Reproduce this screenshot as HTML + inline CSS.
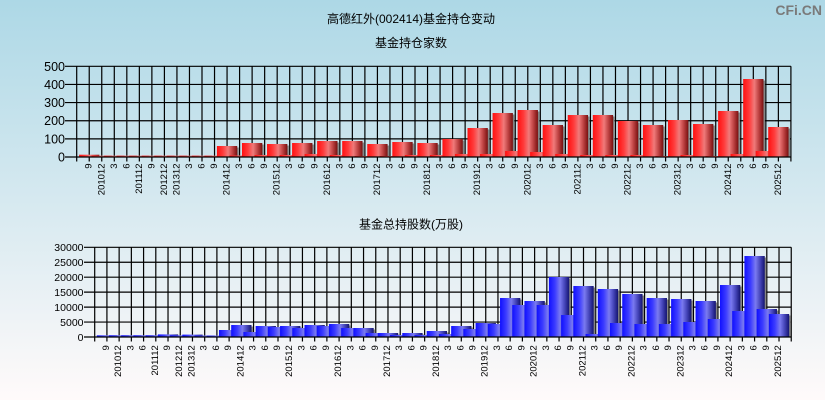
<!DOCTYPE html>
<html><head><meta charset="utf-8"><style>
html,body{margin:0;padding:0;width:825px;height:400px;overflow:hidden}
svg{display:block}
.t{font-family:"Liberation Sans","Noto Sans CJK SC",sans-serif;fill:#000}
.xl{font-family:"Liberation Sans",sans-serif;font-size:9.5px;text-anchor:end;fill:#000}
.y1{font-family:"Liberation Sans",sans-serif;font-size:12.5px;text-anchor:end;fill:#000}
.y2{font-family:"Liberation Sans",sans-serif;font-size:10.5px;text-anchor:end;fill:#000}
.r{fill:url(#gr)}.b{fill:url(#gb)}.s{fill:#858585}
</style></head><body>
<svg width="825" height="400" viewBox="0 0 825 400" xmlns="http://www.w3.org/2000/svg">
<defs>
<linearGradient id="bg" x1="0" y1="0" x2="0" y2="1"><stop offset="0" stop-color="#add8e6"/><stop offset="1" stop-color="#fffafa"/></linearGradient>
<linearGradient id="gr" x1="0" y1="0" x2="1" y2="0"><stop offset="0" stop-color="#ff1010"/><stop offset="0.3" stop-color="#ff3c3c"/><stop offset="0.55" stop-color="#f07a7a"/><stop offset="0.78" stop-color="#bb4040"/><stop offset="1" stop-color="#781010"/></linearGradient>
<linearGradient id="gb" x1="0" y1="0" x2="1" y2="0"><stop offset="0" stop-color="#1010ff"/><stop offset="0.3" stop-color="#3c3cff"/><stop offset="0.55" stop-color="#7a7af0"/><stop offset="0.78" stop-color="#4444b8"/><stop offset="1" stop-color="#141470"/></linearGradient>
</defs>
<rect x="0" y="0" width="825" height="400" fill="url(#bg)"/>

<text class="t" x="411" y="23" font-size="12" text-anchor="middle">高德红外(002414)基金持仓变动</text>
<text class="t" x="411" y="47" font-size="12" text-anchor="middle">基金持仓家数</text>
<text class="t" x="411" y="228.5" font-size="12" text-anchor="middle">基金总持股数(万股)</text>
<text x="822" y="15" font-family="Liberation Sans,sans-serif" font-weight="bold" font-size="14" text-anchor="end" fill="#7a7a7a">CFi.CN</text>

<!-- TOP CHART GRID -->
<g stroke="#000" stroke-width="1.2" fill="none">
<path d="M65 66.3H790.91M65 84.44H790.91M65 102.58H790.91M65 120.72H790.91M65 138.86H790.91"/>
<path d="M76.7 66.3V161.5M89.23 66.3V161.5M101.76 66.3V161.5M114.29 66.3V161.5M126.82 66.3V161.5M139.35 66.3V161.5M151.88 66.3V161.5M164.41 66.3V161.5M176.94 66.3V161.5M189.47 66.3V161.5M202 66.3V161.5M214.53 66.3V161.5M227.06 66.3V161.5M239.59 66.3V161.5M252.12 66.3V161.5M264.65 66.3V161.5M277.18 66.3V161.5M289.71 66.3V161.5M302.24 66.3V161.5M314.77 66.3V161.5M327.3 66.3V161.5M339.83 66.3V161.5M352.36 66.3V161.5M364.89 66.3V161.5M377.42 66.3V161.5M389.95 66.3V161.5M402.48 66.3V161.5M415.01 66.3V161.5M427.54 66.3V161.5M440.07 66.3V161.5M452.6 66.3V161.5M465.13 66.3V161.5M477.66 66.3V161.5M490.19 66.3V161.5M502.72 66.3V161.5M515.25 66.3V161.5M527.78 66.3V161.5M540.31 66.3V161.5M552.84 66.3V161.5M565.37 66.3V161.5M577.9 66.3V161.5M590.43 66.3V161.5M602.96 66.3V161.5M615.49 66.3V161.5M628.02 66.3V161.5M640.55 66.3V161.5M653.08 66.3V161.5M665.61 66.3V161.5M678.14 66.3V161.5M690.67 66.3V161.5M703.2 66.3V161.5M715.73 66.3V161.5M728.26 66.3V161.5M740.79 66.3V161.5M753.32 66.3V161.5M765.85 66.3V161.5M778.38 66.3V161.5M790.91 66.3V161.5"/>
</g>

<!-- TOP BARS -->
<g>
<rect class="r" x="79.08" y="154.7" width="20.3" height="2.3"/>
<rect class="r" x="91.61" y="155.7" width="20.3" height="1.3"/>
<rect class="r" x="104.14" y="155.7" width="20.3" height="1.3"/>
<rect class="r" x="116.67" y="155.7" width="20.3" height="1.3"/>
<rect class="r" x="129.2" y="155.7" width="20.3" height="1.3"/>
<rect class="r" x="141.73" y="155.7" width="20.3" height="1.3"/>
<rect class="r" x="154.26" y="155.7" width="20.3" height="1.3"/>
<rect class="r" x="166.79" y="155.7" width="20.3" height="1.3"/>
<rect class="r" x="179.32" y="155.7" width="20.3" height="1.3"/>
<rect class="r" x="191.85" y="155.7" width="20.3" height="1.3"/>
<rect class="r" x="204.38" y="155.7" width="20.3" height="1.3"/>
<rect class="s" x="218.41" y="147.5" width="20.3" height="9.5"/><rect class="r" x="216.91" y="146" width="20.3" height="11"/>
<rect class="r" x="229.44" y="155.5" width="20.3" height="1.5"/>
<rect class="s" x="243.47" y="144.5" width="20.3" height="12.5"/><rect class="r" x="241.97" y="143" width="20.3" height="14"/>
<rect class="r" x="254.5" y="155" width="20.3" height="2"/>
<rect class="s" x="268.53" y="145.5" width="20.3" height="11.5"/><rect class="r" x="267.03" y="144" width="20.3" height="13"/>
<rect class="r" x="279.56" y="155" width="20.3" height="2"/>
<rect class="s" x="293.59" y="144.5" width="20.3" height="12.5"/><rect class="r" x="292.09" y="143" width="20.3" height="14"/>
<rect class="r" x="304.62" y="154" width="20.3" height="3"/>
<rect class="s" x="318.65" y="142.5" width="20.3" height="14.5"/><rect class="r" x="317.15" y="141" width="20.3" height="16"/>
<rect class="r" x="329.68" y="155" width="20.3" height="2"/>
<rect class="s" x="343.71" y="142.5" width="20.3" height="14.5"/><rect class="r" x="342.21" y="141" width="20.3" height="16"/>
<rect class="r" x="354.74" y="156" width="20.3" height="1"/>
<rect class="s" x="368.77" y="145.5" width="20.3" height="11.5"/><rect class="r" x="367.27" y="144" width="20.3" height="13"/>
<rect class="r" x="379.8" y="156" width="20.3" height="1"/>
<rect class="s" x="393.83" y="143.5" width="20.3" height="13.5"/><rect class="r" x="392.33" y="142" width="20.3" height="15"/>
<rect class="r" x="404.86" y="155" width="20.3" height="2"/>
<rect class="s" x="418.89" y="144.5" width="20.3" height="12.5"/><rect class="r" x="417.39" y="143" width="20.3" height="14"/>
<rect class="r" x="429.92" y="155" width="20.3" height="2"/>
<rect class="s" x="443.95" y="140.5" width="20.3" height="16.5"/><rect class="r" x="442.45" y="139" width="20.3" height="18"/>
<rect class="r" x="454.98" y="154" width="20.3" height="3"/>
<rect class="s" x="469.01" y="129.5" width="20.3" height="27.5"/><rect class="r" x="467.51" y="128" width="20.3" height="29"/>
<rect class="r" x="480.04" y="154" width="20.3" height="3"/>
<rect class="s" x="494.07" y="114.5" width="20.3" height="42.5"/><rect class="r" x="492.57" y="113" width="20.3" height="44"/>
<rect class="s" x="506.6" y="152.5" width="20.3" height="4.5"/><rect class="r" x="505.1" y="151" width="20.3" height="6"/>
<rect class="s" x="519.13" y="111.5" width="20.3" height="45.5"/><rect class="r" x="517.63" y="110" width="20.3" height="47"/>
<rect class="s" x="531.66" y="153.5" width="20.3" height="3.5"/><rect class="r" x="530.16" y="152" width="20.3" height="5"/>
<rect class="s" x="544.19" y="126.5" width="20.3" height="30.5"/><rect class="r" x="542.69" y="125" width="20.3" height="32"/>
<rect class="r" x="555.22" y="154" width="20.3" height="3"/>
<rect class="s" x="569.25" y="116.5" width="20.3" height="40.5"/><rect class="r" x="567.75" y="115" width="20.3" height="42"/>
<rect class="r" x="580.28" y="155" width="20.3" height="2"/>
<rect class="s" x="594.31" y="116.5" width="20.3" height="40.5"/><rect class="r" x="592.81" y="115" width="20.3" height="42"/>
<rect class="r" x="605.34" y="155" width="20.3" height="2"/>
<rect class="s" x="619.37" y="122.5" width="20.3" height="34.5"/><rect class="r" x="617.87" y="121" width="20.3" height="36"/>
<rect class="r" x="630.4" y="155" width="20.3" height="2"/>
<rect class="s" x="644.43" y="126.5" width="20.3" height="30.5"/><rect class="r" x="642.93" y="125" width="20.3" height="32"/>
<rect class="r" x="655.46" y="156" width="20.3" height="1"/>
<rect class="s" x="669.49" y="121.5" width="20.3" height="35.5"/><rect class="r" x="667.99" y="120" width="20.3" height="37"/>
<rect class="r" x="680.52" y="155" width="20.3" height="2"/>
<rect class="s" x="694.55" y="125.5" width="20.3" height="31.5"/><rect class="r" x="693.05" y="124" width="20.3" height="33"/>
<rect class="r" x="705.58" y="156" width="20.3" height="1"/>
<rect class="s" x="719.61" y="112.5" width="20.3" height="44.5"/><rect class="r" x="718.11" y="111" width="20.3" height="46"/>
<rect class="r" x="730.64" y="154" width="20.3" height="3"/>
<rect class="s" x="744.67" y="80.5" width="20.3" height="76.5"/><rect class="r" x="743.17" y="79" width="20.3" height="78"/>
<rect class="s" x="757.2" y="152.5" width="20.3" height="4.5"/><rect class="r" x="755.7" y="151" width="20.3" height="6"/>
<rect class="s" x="769.73" y="128.5" width="20.3" height="28.5"/><rect class="r" x="768.23" y="127" width="20.3" height="30"/>
</g>
<path d="M65 157H790.91" stroke="#000" stroke-width="1.3"/>

<!-- TOP Y LABELS -->
<text class="y1" x="65" y="161.5">0</text>
<text class="y1" x="65" y="143.4">100</text>
<text class="y1" x="65" y="125.2">200</text>
<text class="y1" x="65" y="107.1">300</text>
<text class="y1" x="65" y="88.9">400</text>
<text class="y1" x="65" y="70.8">500</text>

<!-- TOP X LABELS -->
<g class="xl">
<text transform="translate(91.73,163.5) rotate(-90)">9</text>
<text transform="translate(104.26,163.5) rotate(-90)">201012</text>
<text transform="translate(116.79,163.5) rotate(-90)">3</text>
<text transform="translate(129.32,163.5) rotate(-90)">6</text>
<text transform="translate(141.85,163.5) rotate(-90)">201112</text>
<text transform="translate(154.38,163.5) rotate(-90)">9</text>
<text transform="translate(166.91,163.5) rotate(-90)">201212</text>
<text transform="translate(179.44,163.5) rotate(-90)">201312</text>
<text transform="translate(191.97,163.5) rotate(-90)">3</text>
<text transform="translate(204.5,163.5) rotate(-90)">6</text>
<text transform="translate(217.03,163.5) rotate(-90)">9</text>
<text transform="translate(229.56,163.5) rotate(-90)">201412</text>
<text transform="translate(242.09,163.5) rotate(-90)">3</text>
<text transform="translate(254.62,163.5) rotate(-90)">6</text>
<text transform="translate(267.15,163.5) rotate(-90)">9</text>
<text transform="translate(279.68,163.5) rotate(-90)">201512</text>
<text transform="translate(292.21,163.5) rotate(-90)">3</text>
<text transform="translate(304.74,163.5) rotate(-90)">6</text>
<text transform="translate(317.27,163.5) rotate(-90)">9</text>
<text transform="translate(329.8,163.5) rotate(-90)">201612</text>
<text transform="translate(342.33,163.5) rotate(-90)">3</text>
<text transform="translate(354.86,163.5) rotate(-90)">6</text>
<text transform="translate(367.39,163.5) rotate(-90)">9</text>
<text transform="translate(379.92,163.5) rotate(-90)">201712</text>
<text transform="translate(392.45,163.5) rotate(-90)">3</text>
<text transform="translate(404.98,163.5) rotate(-90)">6</text>
<text transform="translate(417.51,163.5) rotate(-90)">9</text>
<text transform="translate(430.04,163.5) rotate(-90)">201812</text>
<text transform="translate(442.57,163.5) rotate(-90)">3</text>
<text transform="translate(455.1,163.5) rotate(-90)">6</text>
<text transform="translate(467.63,163.5) rotate(-90)">9</text>
<text transform="translate(480.16,163.5) rotate(-90)">201912</text>
<text transform="translate(492.69,163.5) rotate(-90)">3</text>
<text transform="translate(505.22,163.5) rotate(-90)">6</text>
<text transform="translate(517.75,163.5) rotate(-90)">9</text>
<text transform="translate(530.28,163.5) rotate(-90)">202012</text>
<text transform="translate(542.81,163.5) rotate(-90)">3</text>
<text transform="translate(555.34,163.5) rotate(-90)">6</text>
<text transform="translate(567.87,163.5) rotate(-90)">9</text>
<text transform="translate(580.4,163.5) rotate(-90)">202112</text>
<text transform="translate(592.93,163.5) rotate(-90)">3</text>
<text transform="translate(605.46,163.5) rotate(-90)">6</text>
<text transform="translate(617.99,163.5) rotate(-90)">9</text>
<text transform="translate(630.52,163.5) rotate(-90)">202212</text>
<text transform="translate(643.05,163.5) rotate(-90)">3</text>
<text transform="translate(655.58,163.5) rotate(-90)">6</text>
<text transform="translate(668.11,163.5) rotate(-90)">9</text>
<text transform="translate(680.64,163.5) rotate(-90)">202312</text>
<text transform="translate(693.17,163.5) rotate(-90)">3</text>
<text transform="translate(705.7,163.5) rotate(-90)">6</text>
<text transform="translate(718.23,163.5) rotate(-90)">9</text>
<text transform="translate(730.76,163.5) rotate(-90)">202412</text>
<text transform="translate(743.29,163.5) rotate(-90)">3</text>
<text transform="translate(755.82,163.5) rotate(-90)">6</text>
<text transform="translate(768.35,163.5) rotate(-90)">9</text>
<text transform="translate(780.88,163.5) rotate(-90)">202512</text>
</g>

<!-- BOTTOM CHART GRID -->
<g stroke="#000" stroke-width="1.2" fill="none">
<path d="M84 247.3H791.24M84 262.25H791.24M84 277.2H791.24M84 292.15H791.24M84 307.1H791.24M84 322.05H791.24"/>
<path d="M94.7 247.3V341.5M106.92 247.3V341.5M119.14 247.3V341.5M131.36 247.3V341.5M143.58 247.3V341.5M155.8 247.3V341.5M168.02 247.3V341.5M180.24 247.3V341.5M192.46 247.3V341.5M204.68 247.3V341.5M216.9 247.3V341.5M229.12 247.3V341.5M241.34 247.3V341.5M253.56 247.3V341.5M265.78 247.3V341.5M278 247.3V341.5M290.22 247.3V341.5M302.44 247.3V341.5M314.66 247.3V341.5M326.88 247.3V341.5M339.1 247.3V341.5M351.32 247.3V341.5M363.54 247.3V341.5M375.76 247.3V341.5M387.98 247.3V341.5M400.2 247.3V341.5M412.42 247.3V341.5M424.64 247.3V341.5M436.86 247.3V341.5M449.08 247.3V341.5M461.3 247.3V341.5M473.52 247.3V341.5M485.74 247.3V341.5M497.96 247.3V341.5M510.18 247.3V341.5M522.4 247.3V341.5M534.62 247.3V341.5M546.84 247.3V341.5M559.06 247.3V341.5M571.28 247.3V341.5M583.5 247.3V341.5M595.72 247.3V341.5M607.94 247.3V341.5M620.16 247.3V341.5M632.38 247.3V341.5M644.6 247.3V341.5M656.82 247.3V341.5M669.04 247.3V341.5M681.26 247.3V341.5M693.48 247.3V341.5M705.7 247.3V341.5M717.92 247.3V341.5M730.14 247.3V341.5M742.36 247.3V341.5M754.58 247.3V341.5M766.8 247.3V341.5M779.02 247.3V341.5M791.24 247.3V341.5"/>
</g>

<!-- BOTTOM BARS -->
<g>
<rect class="b" x="96.77" y="335.3" width="20.3" height="1.7"/>
<rect class="b" x="108.99" y="335.3" width="20.3" height="1.7"/>
<rect class="b" x="121.21" y="335.3" width="20.3" height="1.7"/>
<rect class="b" x="133.43" y="335.3" width="20.3" height="1.7"/>
<rect class="b" x="145.65" y="335.3" width="20.3" height="1.7"/>
<rect class="b" x="157.87" y="334.4" width="20.3" height="2.6"/>
<rect class="b" x="170.09" y="335.3" width="20.3" height="1.7"/>
<rect class="b" x="182.31" y="334.6" width="20.3" height="2.4"/>
<rect class="b" x="194.53" y="335.5" width="20.3" height="1.5"/>
<rect class="b" x="206.75" y="335.6" width="20.3" height="1.4"/>
<rect class="s" x="220.47" y="331.5" width="20.3" height="5.5"/><rect class="b" x="218.97" y="330" width="20.3" height="7"/>
<rect class="s" x="232.69" y="326.5" width="20.3" height="10.5"/><rect class="b" x="231.19" y="325" width="20.3" height="12"/>
<rect class="s" x="244.91" y="333.5" width="20.3" height="3.5"/><rect class="b" x="243.41" y="332" width="20.3" height="5"/>
<rect class="s" x="257.13" y="327.5" width="20.3" height="9.5"/><rect class="b" x="255.63" y="326" width="20.3" height="11"/>
<rect class="s" x="269.35" y="328.5" width="20.3" height="8.5"/><rect class="b" x="267.85" y="327" width="20.3" height="10"/>
<rect class="s" x="281.57" y="327.5" width="20.3" height="9.5"/><rect class="b" x="280.07" y="326" width="20.3" height="11"/>
<rect class="s" x="293.79" y="329.5" width="20.3" height="7.5"/><rect class="b" x="292.29" y="328" width="20.3" height="9"/>
<rect class="s" x="306.01" y="326.5" width="20.3" height="10.5"/><rect class="b" x="304.51" y="325" width="20.3" height="12"/>
<rect class="s" x="318.23" y="327.5" width="20.3" height="9.5"/><rect class="b" x="316.73" y="326" width="20.3" height="11"/>
<rect class="s" x="330.45" y="325.5" width="20.3" height="11.5"/><rect class="b" x="328.95" y="324" width="20.3" height="13"/>
<rect class="s" x="342.67" y="329.5" width="20.3" height="7.5"/><rect class="b" x="341.17" y="328" width="20.3" height="9"/>
<rect class="s" x="354.89" y="329.5" width="20.3" height="7.5"/><rect class="b" x="353.39" y="328" width="20.3" height="9"/>
<rect class="s" x="367.11" y="334.5" width="20.3" height="2.5"/><rect class="b" x="365.61" y="333" width="20.3" height="4"/>
<rect class="s" x="379.33" y="334.5" width="20.3" height="2.5"/><rect class="b" x="377.83" y="333" width="20.3" height="4"/>
<rect class="b" x="390.05" y="335" width="20.3" height="2"/>
<rect class="s" x="403.77" y="334.5" width="20.3" height="2.5"/><rect class="b" x="402.27" y="333" width="20.3" height="4"/>
<rect class="b" x="414.49" y="335" width="20.3" height="2"/>
<rect class="s" x="428.21" y="332.5" width="20.3" height="4.5"/><rect class="b" x="426.71" y="331" width="20.3" height="6"/>
<rect class="b" x="438.93" y="334" width="20.3" height="3"/>
<rect class="s" x="452.65" y="327.5" width="20.3" height="9.5"/><rect class="b" x="451.15" y="326" width="20.3" height="11"/>
<rect class="s" x="464.87" y="330.5" width="20.3" height="6.5"/><rect class="b" x="463.37" y="329" width="20.3" height="8"/>
<rect class="s" x="477.09" y="324.5" width="20.3" height="12.5"/><rect class="b" x="475.59" y="323" width="20.3" height="14"/>
<rect class="s" x="489.31" y="325.5" width="20.3" height="11.5"/><rect class="b" x="487.81" y="324" width="20.3" height="13"/>
<rect class="s" x="501.53" y="299.5" width="20.3" height="37.5"/><rect class="b" x="500.03" y="298" width="20.3" height="39"/>
<rect class="s" x="513.75" y="306.5" width="20.3" height="30.5"/><rect class="b" x="512.25" y="305" width="20.3" height="32"/>
<rect class="s" x="525.97" y="302.5" width="20.3" height="34.5"/><rect class="b" x="524.47" y="301" width="20.3" height="36"/>
<rect class="s" x="538.19" y="306.5" width="20.3" height="30.5"/><rect class="b" x="536.69" y="305" width="20.3" height="32"/>
<rect class="s" x="550.41" y="278.5" width="20.3" height="58.5"/><rect class="b" x="548.91" y="277" width="20.3" height="60"/>
<rect class="s" x="562.63" y="316.5" width="20.3" height="20.5"/><rect class="b" x="561.13" y="315" width="20.3" height="22"/>
<rect class="s" x="574.85" y="287.5" width="20.3" height="49.5"/><rect class="b" x="573.35" y="286" width="20.3" height="51"/>
<rect class="b" x="585.57" y="334" width="20.3" height="3"/>
<rect class="s" x="599.29" y="290.5" width="20.3" height="46.5"/><rect class="b" x="597.79" y="289" width="20.3" height="48"/>
<rect class="s" x="611.51" y="324.5" width="20.3" height="12.5"/><rect class="b" x="610.01" y="323" width="20.3" height="14"/>
<rect class="s" x="623.73" y="295.5" width="20.3" height="41.5"/><rect class="b" x="622.23" y="294" width="20.3" height="43"/>
<rect class="s" x="635.95" y="325.5" width="20.3" height="11.5"/><rect class="b" x="634.45" y="324" width="20.3" height="13"/>
<rect class="s" x="648.17" y="299.5" width="20.3" height="37.5"/><rect class="b" x="646.67" y="298" width="20.3" height="39"/>
<rect class="s" x="660.39" y="325.5" width="20.3" height="11.5"/><rect class="b" x="658.89" y="324" width="20.3" height="13"/>
<rect class="s" x="672.61" y="300.5" width="20.3" height="36.5"/><rect class="b" x="671.11" y="299" width="20.3" height="38"/>
<rect class="s" x="684.83" y="323.5" width="20.3" height="13.5"/><rect class="b" x="683.33" y="322" width="20.3" height="15"/>
<rect class="s" x="697.05" y="302.5" width="20.3" height="34.5"/><rect class="b" x="695.55" y="301" width="20.3" height="36"/>
<rect class="s" x="709.27" y="320.5" width="20.3" height="16.5"/><rect class="b" x="707.77" y="319" width="20.3" height="18"/>
<rect class="s" x="721.49" y="286.5" width="20.3" height="50.5"/><rect class="b" x="719.99" y="285" width="20.3" height="52"/>
<rect class="s" x="733.71" y="312.5" width="20.3" height="24.5"/><rect class="b" x="732.21" y="311" width="20.3" height="26"/>
<rect class="s" x="745.93" y="257.5" width="20.3" height="79.5"/><rect class="b" x="744.43" y="256" width="20.3" height="81"/>
<rect class="s" x="758.15" y="310.5" width="20.3" height="26.5"/><rect class="b" x="756.65" y="309" width="20.3" height="28"/>
<rect class="s" x="770.37" y="315.5" width="20.3" height="21.5"/><rect class="b" x="768.87" y="314" width="20.3" height="23"/>
</g>
<path d="M84 337H791.24" stroke="#000" stroke-width="1.3"/>

<!-- BOTTOM Y LABELS -->
<text class="y2" x="83.5" y="340.8">0</text>
<text class="y2" x="83.5" y="325.85">5000</text>
<text class="y2" x="83.5" y="310.9">10000</text>
<text class="y2" x="83.5" y="295.95">15000</text>
<text class="y2" x="83.5" y="281">20000</text>
<text class="y2" x="83.5" y="266.05">25000</text>
<text class="y2" x="83.5" y="251.1">30000</text>

<!-- BOTTOM X LABELS -->
<g class="xl">
<text transform="translate(108.92,345.2) rotate(-90)">9</text>
<text transform="translate(121.14,345.2) rotate(-90)">201012</text>
<text transform="translate(133.36,345.2) rotate(-90)">3</text>
<text transform="translate(145.58,345.2) rotate(-90)">6</text>
<text transform="translate(157.8,345.2) rotate(-90)">201112</text>
<text transform="translate(170.02,345.2) rotate(-90)">9</text>
<text transform="translate(182.24,345.2) rotate(-90)">201212</text>
<text transform="translate(194.46,345.2) rotate(-90)">201312</text>
<text transform="translate(206.68,345.2) rotate(-90)">3</text>
<text transform="translate(218.9,345.2) rotate(-90)">6</text>
<text transform="translate(231.12,345.2) rotate(-90)">9</text>
<text transform="translate(243.34,345.2) rotate(-90)">201412</text>
<text transform="translate(255.56,345.2) rotate(-90)">3</text>
<text transform="translate(267.78,345.2) rotate(-90)">6</text>
<text transform="translate(280,345.2) rotate(-90)">9</text>
<text transform="translate(292.22,345.2) rotate(-90)">201512</text>
<text transform="translate(304.44,345.2) rotate(-90)">3</text>
<text transform="translate(316.66,345.2) rotate(-90)">6</text>
<text transform="translate(328.88,345.2) rotate(-90)">9</text>
<text transform="translate(341.1,345.2) rotate(-90)">201612</text>
<text transform="translate(353.32,345.2) rotate(-90)">3</text>
<text transform="translate(365.54,345.2) rotate(-90)">6</text>
<text transform="translate(377.76,345.2) rotate(-90)">9</text>
<text transform="translate(389.98,345.2) rotate(-90)">201712</text>
<text transform="translate(402.2,345.2) rotate(-90)">3</text>
<text transform="translate(414.42,345.2) rotate(-90)">6</text>
<text transform="translate(426.64,345.2) rotate(-90)">9</text>
<text transform="translate(438.86,345.2) rotate(-90)">201812</text>
<text transform="translate(451.08,345.2) rotate(-90)">3</text>
<text transform="translate(463.3,345.2) rotate(-90)">6</text>
<text transform="translate(475.52,345.2) rotate(-90)">9</text>
<text transform="translate(487.74,345.2) rotate(-90)">201912</text>
<text transform="translate(499.96,345.2) rotate(-90)">3</text>
<text transform="translate(512.18,345.2) rotate(-90)">6</text>
<text transform="translate(524.4,345.2) rotate(-90)">9</text>
<text transform="translate(536.62,345.2) rotate(-90)">202012</text>
<text transform="translate(548.84,345.2) rotate(-90)">3</text>
<text transform="translate(561.06,345.2) rotate(-90)">6</text>
<text transform="translate(573.28,345.2) rotate(-90)">9</text>
<text transform="translate(585.5,345.2) rotate(-90)">202112</text>
<text transform="translate(597.72,345.2) rotate(-90)">3</text>
<text transform="translate(609.94,345.2) rotate(-90)">6</text>
<text transform="translate(622.16,345.2) rotate(-90)">9</text>
<text transform="translate(634.38,345.2) rotate(-90)">202212</text>
<text transform="translate(646.6,345.2) rotate(-90)">3</text>
<text transform="translate(658.82,345.2) rotate(-90)">6</text>
<text transform="translate(671.04,345.2) rotate(-90)">9</text>
<text transform="translate(683.26,345.2) rotate(-90)">202312</text>
<text transform="translate(695.48,345.2) rotate(-90)">3</text>
<text transform="translate(707.7,345.2) rotate(-90)">6</text>
<text transform="translate(719.92,345.2) rotate(-90)">9</text>
<text transform="translate(732.14,345.2) rotate(-90)">202412</text>
<text transform="translate(744.36,345.2) rotate(-90)">3</text>
<text transform="translate(756.58,345.2) rotate(-90)">6</text>
<text transform="translate(768.8,345.2) rotate(-90)">9</text>
<text transform="translate(781.02,345.2) rotate(-90)">202512</text>
</g>
</svg>
</body></html>
